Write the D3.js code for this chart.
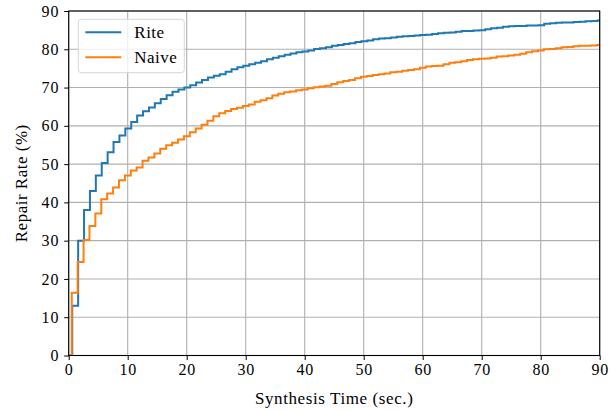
<!DOCTYPE html>
<html>
<head>
<meta charset="utf-8">
<script src="https://cdn.jsdelivr.net/npm/d3@7"></script>
<style>
  body { margin: 0; background: #fff; }
  text { font-family: "Liberation Serif", "DejaVu Serif", serif; fill: #000; }
</style>
</head>
<body>
<svg id="my_svg"></svg>
<script>
const width = 616;
const height = 411;

// time (sec.) at which each step happens
const stepTimes = [
    0.6, 1.6, 2.6, 3.6, 4.6, 5.6, 6.6, 7.6, 8.6, 9.6,
    10.6, 11.6, 12.6, 13.6, 14.6, 15.6, 16.6, 17.6, 18.6, 19.6,
    20.6, 21.6, 22.6, 23.6, 24.6, 25.6, 26.6, 27.6, 28.6, 29.6,
    30.6, 31.6, 32.6, 33.6, 34.6, 35.6, 36.6, 37.6, 38.6, 39.6,
    40.6, 41.6, 42.6, 43.6, 44.6, 45.6, 46.6, 47.6, 48.6, 49.6,
    50.6, 51.6, 52.6, 53.6, 54.6, 55.6, 56.6, 57.6, 58.6, 59.6,
    60.6, 61.6, 62.6, 63.6, 64.6, 65.6, 66.6, 67.6, 68.6, 69.6,
    70.6, 71.6, 72.6, 73.6, 74.6, 75.6, 76.6, 77.6, 78.6, 79.6,
    80.6, 81.6, 82.6, 83.6, 84.6, 85.6, 86.6, 87.6, 88.6, 89.6
];

// repair rate (%) after each step
const riteRate = [
    13.0, 30.0, 38.0, 43.0, 47.0, 50.3, 53.1, 55.8, 57.5, 59.3,
    61.0, 62.7, 63.8, 64.8, 65.9, 67.0, 68.0, 68.9, 69.5, 70.0,
    70.6, 71.3, 72.0, 72.6, 73.1, 73.5, 74.1, 74.8, 75.3, 75.7,
    76.1, 76.5, 76.9, 77.4, 77.8, 78.2, 78.6, 78.9, 79.2, 79.4,
    79.7, 80.1, 80.3, 80.5, 80.9, 81.1, 81.4, 81.6, 81.9, 82.1,
    82.3, 82.6, 82.8, 82.9, 83.1, 83.3, 83.4, 83.5, 83.6, 83.7,
    83.8, 84.0, 84.2, 84.3, 84.4, 84.6, 84.8, 84.8, 84.9, 85.0,
    85.2, 85.5, 85.6, 85.9, 86.0, 86.1, 86.1, 86.2, 86.2, 86.3,
    86.7, 86.8, 86.9, 87.0, 87.0, 87.1, 87.2, 87.3, 87.4, 87.5
];

const naiveRate = [
    16.4, 24.4, 30.2, 33.8, 37.1, 40.8, 42.3, 43.9, 45.8, 47.0,
    48.3, 49.1, 50.9, 51.7, 52.8, 54.0, 54.9, 55.6, 56.4, 57.3,
    58.3, 59.3, 60.3, 61.3, 62.5, 63.3, 63.9, 64.4, 64.7, 65.2,
    65.6, 66.3, 66.7, 67.2, 67.9, 68.4, 68.8, 69.0, 69.3, 69.5,
    69.8, 70.1, 70.3, 70.5, 70.9, 71.4, 71.7, 72.0, 72.4, 72.8,
    73.0, 73.3, 73.5, 73.7, 74.0, 74.1, 74.4, 74.6, 74.8, 75.2,
    75.5, 75.6, 75.7, 76.1, 76.5, 76.6, 76.9, 77.2, 77.4, 77.5,
    77.6, 77.8, 78.1, 78.2, 78.4, 78.6, 78.8, 79.2, 79.5, 79.7,
    80.0, 80.1, 80.3, 80.5, 80.6, 80.8, 80.9, 80.9, 81.0, 81.1
];

const seriesNames = ['Rite', 'Naive'];
const seriesColor = { 'Rite': '#1f77b4', 'Naive': '#ff7f0e' };

const xTicks = [0, 10, 20, 30, 40, 50, 60, 70, 80, 90];
const yTicks = [0, 10, 20, 30, 40, 50, 60, 70, 80, 90];

const margin = { left: 68.7, right: 16.3, top: 11, bottom: 55.5 };
const innerW = width - margin.left - margin.right;
const innerH = height - margin.top - margin.bottom;

const svg = d3.select('#my_svg')
    .attr('width', width)
    .attr('height', height);

const x = d3.scaleLinear().domain([0, 90]).range([0, innerW]);
const y = d3.scaleLinear().domain([0, 90]).range([innerH, 0]);

const g = svg.append('g')
    .attr('transform', `translate(${margin.left}, ${margin.top})`);

svg.append('defs').append('clipPath')
    .attr('id', 'clip')
    .append('rect')
    .attr('width', innerW)
    .attr('height', innerH);

// grid
g.append('g')
    .selectAll('line')
    .data(xTicks)
    .enter().append('line')
    .attr('x1', d => x(d)).attr('x2', d => x(d))
    .attr('y1', 0).attr('y2', innerH)
    .attr('stroke', '#b0b0b0')
    .attr('stroke-width', 1.1);

g.append('g')
    .selectAll('line')
    .data(yTicks)
    .enter().append('line')
    .attr('x1', 0).attr('x2', innerW)
    .attr('y1', d => y(d)).attr('y2', d => y(d))
    .attr('stroke', '#b0b0b0')
    .attr('stroke-width', 1.1);

// step lines
const line = d3.line()
    .x(d => x(d[0]))
    .y(d => y(d[1]))
    .curve(d3.curveStepAfter);

const seriesData = {
    'Rite': [[0, 0]].concat(stepTimes.map((t, i) => [t, riteRate[i]]), [[90, riteRate[riteRate.length - 1]]]),
    'Naive': [[0, 0]].concat(stepTimes.map((t, i) => [t - 0.08, naiveRate[i]]), [[90, naiveRate[naiveRate.length - 1]]])
};

g.append('g')
    .attr('clip-path', 'url(#clip)')
    .selectAll('path')
    .data(seriesNames)
    .enter().append('path')
    .attr('d', d => line(seriesData[d]))
    .attr('fill', 'none')
    .attr('stroke', d => seriesColor[d])
    .attr('stroke-width', 2);

// axes
const xAxis = g.append('g')
    .attr('transform', `translate(0, ${innerH})`)
    .call(d3.axisBottom(x).tickValues(xTicks).tickSize(4.5).tickPadding(4).tickFormat(d3.format('d')));

const yAxis = g.append('g')
    .call(d3.axisLeft(y).tickValues(yTicks).tickSize(4.5).tickPadding(5).tickFormat(d3.format('d')));

[xAxis, yAxis].forEach(a => {
    a.select('.domain').remove();
    a.selectAll('line').attr('stroke', '#000').attr('stroke-width', 1);
    a.selectAll('text')
        .attr('font-size', 16)
        .attr('letter-spacing', 0.8)
        .attr('font-family', '"Liberation Serif", serif');
});

// frame
g.append('rect')
    .attr('width', innerW)
    .attr('height', innerH)
    .attr('fill', 'none')
    .attr('stroke', '#000')
    .attr('stroke-width', 1.1);

// axis labels
svg.append('text')
    .attr('x', margin.left + innerW / 2)
    .attr('y', 404)
    .attr('text-anchor', 'middle')
    .attr('font-size', 17)
    .attr('letter-spacing', 0.6)
    .text('Synthesis Time (sec.)');

svg.append('text')
    .attr('transform', `translate(27, ${margin.top + innerH / 2}) rotate(-90)`)
    .attr('text-anchor', 'middle')
    .attr('font-size', 17)
    .attr('letter-spacing', 0.5)
    .text('Repair Rate (%)');

// legend
const legend = g.append('g')
    .attr('transform', 'translate(9.6, 8.3)');

legend.append('rect')
    .attr('width', 106)
    .attr('height', 53.4)
    .attr('rx', 3)
    .attr('fill', '#fff')
    .attr('fill-opacity', 0.8)
    .attr('stroke', '#d6d6d6')
    .attr('stroke-width', 1);

const item = legend.selectAll('.item')
    .data(seriesNames)
    .enter().append('g')
    .attr('class', 'item')
    .attr('transform', (d, i) => `translate(0, ${13 + 25 * i})`);

item.append('line')
    .attr('x1', 7).attr('x2', 43)
    .attr('y1', 0).attr('y2', 0)
    .attr('stroke', d => seriesColor[d])
    .attr('stroke-width', 2);

item.append('text')
    .attr('x', 56)
    .attr('y', 5.5)
    .attr('font-size', 17)
    .attr('letter-spacing', 0.5)
    .text(d => d);
</script>
</body>
</html>
